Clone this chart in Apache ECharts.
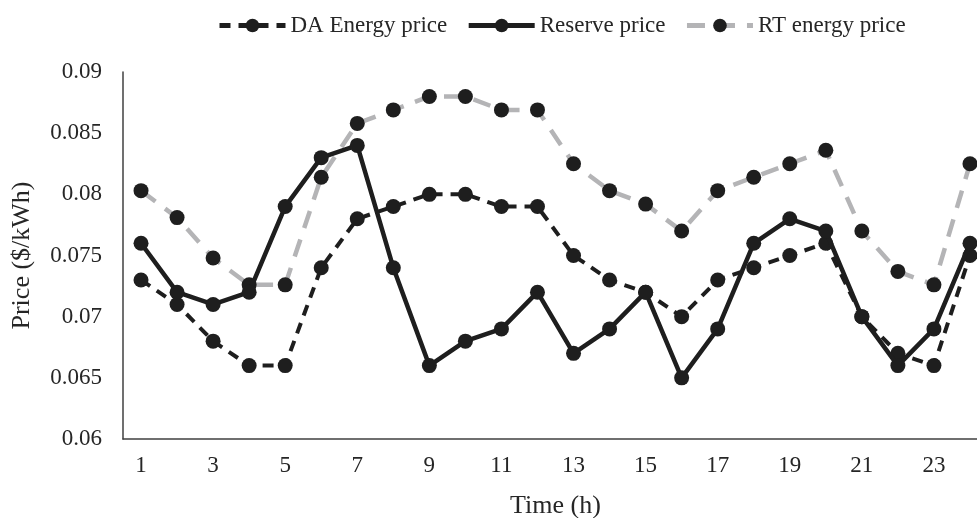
<!DOCTYPE html>
<html><head><meta charset="utf-8">
<script src="https://cdn.jsdelivr.net/npm/echarts@6/dist/echarts.min.js"></script>
<style>html,body{margin:0;padding:0;background:#fff}#c{width:977px;height:518px}</style>
</head><body><div id="c"></div>
<script>
const hours = ['1','2','3','4','5','6','7','8','9','10','11','12','13','14','15','16','17','18','19','20','21','22','23','24'];
const daEnergy = [0.073,0.071,0.068,0.066,0.066,0.074,0.078,0.079,0.080,0.080,0.079,0.079,0.075,0.073,0.072,0.070,0.073,0.074,0.075,0.076,0.070,0.067,0.066,0.075];
const reserve = [0.076,0.072,0.071,0.072,0.079,0.083,0.084,0.074,0.066,0.068,0.069,0.072,0.067,0.069,0.072,0.065,0.069,0.076,0.078,0.077,0.070,0.066,0.069,0.076];
const rtEnergy = [0.0803,0.0781,0.0748,0.0726,0.0726,0.0814,0.0858,0.0869,0.0880,0.0880,0.0869,0.0869,0.0825,0.0803,0.0792,0.0770,0.0803,0.0814,0.0825,0.0836,0.0770,0.0737,0.0726,0.0825];
const yTicks = {min:0.06, max:0.09, interval:0.005};

const font = 'Liberation Serif';
const txt = '#262626';
const chart = echarts.init(document.getElementById('c'));
chart.setOption({
  animation:false,
  textStyle:{fontFamily:font},
  legend:{
    top:9, left:212, itemWidth:66, itemHeight:17, itemGap:19,
    lineStyle:{width:5},
    textStyle:{fontFamily:font, fontSize:23, color:txt},
    data:['DA Energy price','Reserve price','RT energy price']
  },
  grid:{left:123, right:-11, top:72, bottom:79, containLabel:false, outerBoundsMode:'none'},
  xAxis:{
    type:'category', data:hours, boundaryGap:true,
    name:'Time (h)', nameLocation:'middle', nameGap:54,
    nameTextStyle:{fontFamily:font, fontSize:26, color:txt},
    axisLine:{lineStyle:{color:'#404040', width:1.5}},
    axisTick:{show:false},
    axisLabel:{interval:1, fontFamily:font, fontSize:23, color:txt, margin:15},
    splitLine:{show:false}
  },
  yAxis:{
    type:'value', min:yTicks.min, max:yTicks.max, interval:yTicks.interval,
    name:'Price ($/kWh)', nameLocation:'middle', nameGap:88, nameRotate:90,
    nameTextStyle:{fontFamily:font, fontSize:26, color:txt},
    axisLine:{show:true, lineStyle:{color:'#404040', width:1.5}},
    axisTick:{show:false},
    axisLabel:{fontFamily:font, fontSize:23, color:txt, margin:21},
    splitLine:{show:false}
  },
  series:[
    {name:'RT energy price', type:'line', data:rtEnergy, z:1,
     symbol:'circle', symbolSize:15, itemStyle:{color:'#1e1e1e'},
     lineStyle:{color:'#b4b4b6', width:4.5, type:[18,12]}},
    {name:'DA Energy price', type:'line', data:daEnergy, z:2,
     symbol:'circle', symbolSize:15, itemStyle:{color:'#1e1e1e'},
     lineStyle:{color:'#1e1e1e', width:4, type:[11,8]}},
    {name:'Reserve price', type:'line', data:reserve, z:3,
     symbol:'circle', symbolSize:15, itemStyle:{color:'#1e1e1e'},
     lineStyle:{color:'#1e1e1e', width:4.5, type:'solid'}}
  ]
});
</script></body></html>
